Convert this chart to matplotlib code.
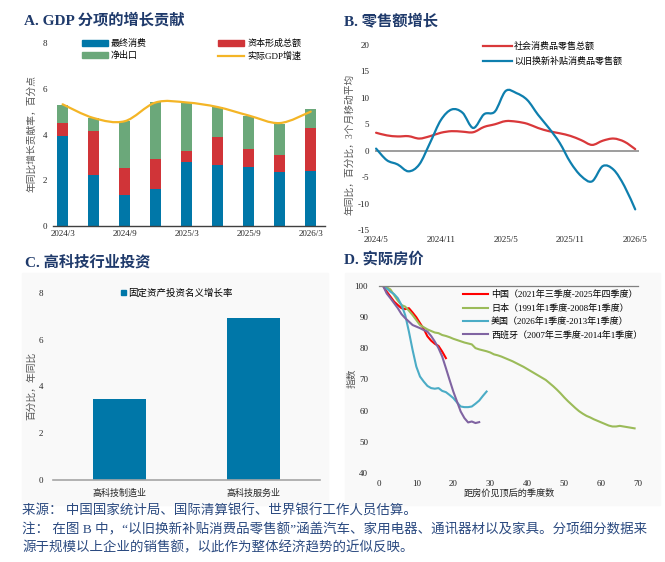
import numpy as np
import matplotlib
matplotlib.use('Agg')
import matplotlib.pyplot as plt
from matplotlib.path import Path
from matplotlib.patches import PathPatch, Patch, Rectangle
from matplotlib.lines import Line2D

# ---- data -------------------------------------------------------------
# A: GDP contributions (quarterly)
gdp_labels = ['2024/3', '', '2024/9', '', '2025/3', '', '2025/9', '', '2026/3']
consumption = [3.93, 2.25, 1.35, 1.61, 2.81, 2.65, 2.60, 2.38, 2.39]
capital = [0.58, 1.90, 1.20, 1.31, 0.48, 1.25, 0.75, 0.72, 1.90]
net_exports = [0.80, 0.56, 2.05, 2.49, 2.08, 1.31, 1.46, 1.38, 0.81]
gdp_growth = [5.32, 4.72, 4.58, 5.40, 5.40, 5.20, 4.83, 4.50, 5.00]

# B: retail sales, 3-month moving average, 2024/5 .. 2026/5
retail_ticks = ['2024/5', '2024/11', '2025/5', '2025/11', '2026/5']
retail_total = [3.4, 2.9, 2.7, 2.75, 2.3, 2.75, 3.4, 3.7, 3.6, 3.5, 4.5, 5.0, 5.6,
                5.5, 5.1, 4.3, 3.7, 3.3, 2.8, 2.0, 1.1, 1.9, 2.3, 1.7, 0.3]
trade_in = [0.4, -1.8, -2.6, -3.9, -2.6, 1.5, 5.8, 7.8, 7.2, 4.3, 6.9, 7.4, 11.3,
            10.9, 9.6, 6.8, 4.3, 1.5, -2.2, -4.8, -5.8, -2.9, -3.6, -6.7, -11.1]

# C: high-tech investment
tech_sectors = ['高科技制造业', '高科技服务业']
tech_growth = [3.45, 6.9]

# D: real house prices, quarters after peak (starting at quarter 1)
china = [100, 98.1, 96.5, 94.9, 93.8, 92.8, 92.5, 92.8, 91.4, 89.9, 88.0, 86.2,
         83.8, 82.4, 81.4, 80.7, 78.9, 76.8]
japan = [100, 99.5, 98.8, 97.0, 95.2, 93.8, 93.3, 92.0, 90.6, 89.0, 87.4, 86.7,
         86.0, 85.5, 85.0, 84.8, 84.2, 83.9, 83.5, 83.0, 82.6, 82.2, 81.8, 81.5,
         81.2, 80.0, 79.6, 79.3, 79.0, 78.6, 78.0, 77.7, 77.3, 76.8, 76.3, 75.8,
         75.2, 74.6, 74.0, 73.3, 72.6, 71.9, 71.2, 70.5, 69.8, 68.8, 67.8, 66.7,
         65.5, 64.2, 63.0, 61.9, 60.8, 59.8, 59.0, 58.3, 57.8, 57.2, 56.7, 56.2,
         55.7, 55.2, 54.9, 54.9, 55.1, 54.9, 54.7, 54.5, 54.3]
usa = [100, 99.1, 98.1, 97.3, 96.0, 93.8, 90.6, 85.3, 79.4, 74.1, 70.9, 69.3,
       67.9, 67.2, 67.0, 67.2, 66.3, 65.9, 65.0, 64.0, 62.6, 61.3, 61.1, 61.1,
       61.3, 62.2, 63.2, 64.7, 66.1]
spain = [100, 97.5, 96.0, 94.4, 92.8, 90.9, 89.6, 88.5, 87.4, 86.9, 86.4, 85.8,
         85.3, 83.9, 82.1, 80.0, 77.3, 73.6, 69.8, 66.1, 62.9, 59.7, 57.6, 56.2,
         56.5, 56.0, 56.3]

# ---- style -------------------------------------------------------------
plt.rcParams['font.family'] = ['Liberation Serif', 'Noto Sans CJK SC', 'DejaVu Sans']
plt.rcParams['axes.unicode_minus'] = False
NAVY = '#1F3A6B'
BLUE = '#0077A8'
RED = '#D03438'
GREEN = '#6BA87A'
GOLD = '#F4B526'
LABEL = '#555555'
TICK = '#262626'

W, H = 665, 562
fig = plt.figure(figsize=(W / 100, H / 100), dpi=100)


def px_axes(l, t, r, b):
    return fig.add_axes([l / W, 1 - b / H, (r - l) / W, (b - t) / H])


def fx(x):
    return x / W


def fy(y):
    return 1 - y / H


def smooth_path(x, y):
    # Catmull-Rom through the points, drawn as cubic Bezier
    P = np.column_stack([x, y]).astype(float)
    n = len(P)
    verts = [P[0]]
    codes = [Path.MOVETO]
    for i in range(n - 1):
        a = P[max(i - 1, 0)]
        d = P[min(i + 2, n - 1)]
        verts += [P[i] + (P[i + 1] - a) / 6, P[i + 1] - (d - P[i]) / 6, P[i + 1]]
        codes += [Path.CURVE4] * 3
    return Path(verts, codes)


def clean(ax):
    for s in ax.spines.values():
        s.set_visible(False)
    ax.tick_params(length=0, labelsize=6.5, colors=TICK)
    ax.patch.set_alpha(0)


# light panels behind C and D
for l, r in [(22, 328), (345, 660)]:
    fig.patches.append(Rectangle((fx(l), fy(505)), (r - l) / W, (505 - 273) / H,
                                 transform=fig.transFigure, color='#F9F9F9', zorder=-10))

# ---- A ----------------------------------------------------------------
ax = px_axes(53, 43, 325, 226)
clean(ax)
x = np.arange(len(consumption))
bw = 0.35
ax.bar(x, consumption, bw, color=BLUE)
ax.bar(x, capital, bw, bottom=consumption, color=RED)
ax.bar(x, net_exports, bw, bottom=np.add(consumption, capital), color=GREEN)
ax.add_patch(PathPatch(smooth_path(x, gdp_growth), fill=False, edgecolor=GOLD,
                       lw=1.6, capstyle='round', zorder=5))
ax.set_xlim(-0.31, 8.46)
ax.set_ylim(0, 8)
ax.set_yticks([0, 2, 4, 6, 8])
ax.set_xticks(x)
ax.set_xticklabels(gdp_labels)
ax.spines['bottom'].set_visible(True)
ax.spines['bottom'].set_color('#404040')
ax.spines['bottom'].set_linewidth(1.0)
ax.tick_params(axis='y', pad=4)
ax.tick_params(axis='x', pad=3)
handles = [Patch(color=BLUE), Patch(color=GREEN), Patch(color=RED),
           Line2D([], [], color=GOLD, lw=1.6)]
labels = ['最终消费', '净出口', '资本形成总额', '实际GDP增速']
ax.legend(handles, labels, ncol=2, loc='upper left', bbox_to_anchor=(fx(82), fy(39)),
          bbox_transform=fig.transFigure, frameon=False, fontsize=6.5, borderpad=0,
          borderaxespad=0, handlelength=2.9, handleheight=0.6, handletextpad=0.3,
          columnspacing=7.9, labelspacing=0.35)
fig.text(fx(32), fy(134), '年同比增长贡献率，百分点', rotation=90, ha='center',
         va='center', fontsize=7, color=LABEL)
fig.text(fx(24), fy(20), 'A. GDP 分项的增长贡献', fontsize=11, weight='bold',
         color=NAVY, va='center')

# ---- B ----------------------------------------------------------------
ax = px_axes(375, 45, 639, 230)
clean(ax)
m = np.arange(len(retail_total))
ax.axhline(0, color='#8C8C8C', lw=1.2, zorder=1)
ax.add_patch(PathPatch(smooth_path(m, retail_total), fill=False, edgecolor='#D9383A',
                       lw=1.6, capstyle='round', zorder=4))
ax.add_patch(PathPatch(smooth_path(m, trade_in), fill=False, edgecolor='#0E7FAE',
                       lw=1.6, capstyle='round', zorder=5))
ax.set_xlim(-0.1, 24.35)
ax.set_ylim(-15, 20)
ax.set_yticks(np.arange(-15, 21, 5))
ax.set_xticks(np.arange(0, 25, 6))
ax.set_xticklabels(retail_ticks)
ax.tick_params(axis='y', pad=4)
ax.tick_params(axis='x', pad=4)
handles = [Line2D([], [], color='#D9383A', lw=1.6), Line2D([], [], color='#0E7FAE', lw=1.6)]
ax.legend(handles, ['社会消费品零售总额', '以旧换新补贴消费品零售额'], loc='upper left',
          bbox_to_anchor=(fx(483), fy(42)), bbox_transform=fig.transFigure,
          frameon=False, fontsize=6.5, borderpad=0, borderaxespad=0,
          handlelength=3.2, handletextpad=0.2, labelspacing=0.67)
fig.text(fx(350), fy(144), '年同比，百分比，3个月移动平均', rotation=90, ha='center',
         va='center', fontsize=7, color=LABEL)
fig.text(fx(344), fy(21), 'B. 零售额增长', fontsize=11, weight='bold',
         color=NAVY, va='center')

# ---- C ----------------------------------------------------------------
ax = px_axes(53, 292.7, 320, 480)
clean(ax)
cx = np.arange(len(tech_growth))
ax.bar(cx, tech_growth, 0.4, color=BLUE)
ax.set_xlim(-0.5, 1.5)
ax.set_ylim(0, 8)
ax.set_yticks([0, 2, 4, 6, 8])
ax.set_xticks(cx)
ax.set_xticklabels(tech_sectors)
ax.spines['bottom'].set_visible(True)
ax.spines['bottom'].set_color('#A6A6A6')
ax.spines['bottom'].set_linewidth(1.2)
ax.tick_params(axis='y', pad=7)
ax.tick_params(axis='x', pad=6)
ax.legend([Patch(color=BLUE)], ['固定资产投资名义增长率'], loc='upper left',
          bbox_to_anchor=(fx(121), fy(288.5)), bbox_transform=fig.transFigure,
          frameon=False, fontsize=6.8, borderpad=0, borderaxespad=0,
          handlelength=0.5, handleheight=0.5, handletextpad=0.25)
fig.text(fx(32), fy(386), '百分比，年同比', rotation=90, ha='center',
         va='center', fontsize=7, color=LABEL)
fig.text(fx(25), fy(262), 'C. 高科技行业投资', fontsize=11, weight='bold',
         color=NAVY, va='center')

# ---- D ----------------------------------------------------------------
ax = px_axes(379.3, 285.7, 638.3, 473)
clean(ax)
series = [(china, '#FF0000', '中国（2021年三季度-2025年四季度）'),
          (japan, '#9BBB59', '日本（1991年1季度-2008年1季度）'),
          (usa, '#4BACC6', '美国（2026年1季度-2013年1季度）'),
          (spain, '#8064A2', '西班牙（2007年三季度-2014年1季度）')]
for vals, col, lab in series:
    ax.plot(np.arange(1, len(vals) + 1), vals, color=col, lw=1.5, label=lab)
ax.set_xlim(0, 70)
ax.set_ylim(40, 100)
ax.set_yticks(np.arange(40, 101, 10))
ax.set_xticks(np.arange(0, 71, 10))
ax.spines['top'].set_visible(True)
ax.spines['top'].set_color('#808080')
ax.spines['top'].set_linewidth(0.9)
ax.tick_params(axis='y', pad=8)
ax.tick_params(axis='x', pad=5)
ax.legend(loc='upper left', bbox_to_anchor=(fx(463), fy(290.5)),
          bbox_transform=fig.transFigure, frameon=False, fontsize=6.5, borderpad=0,
          borderaxespad=0, handlelength=2.8, handletextpad=0.3, labelspacing=0.48)
fig.text(fx(509), fy(493), '距房价见顶后的季度数', ha='center', va='center',
         fontsize=6.6, color=TICK)
fig.text(fx(352), fy(378), '指数', rotation=90, ha='center', va='center',
         fontsize=7, color=LABEL)
fig.text(fx(344), fy(260), 'D. 实际房价', fontsize=11, weight='bold',
         color=NAVY, va='center')

# ---- footer -----------------------------------------------------------
FOOT = '#2B4A80'
notes = ['来源： 中国国家统计局、国际清算银行、世界银行工作人员估算。',
         '注： 在图 B 中，“以旧换新补贴消费品零售额”涵盖汽车、家用电器、通讯器材以及家具。分项细分数据来',
         '源于规模以上企业的销售额，以此作为整体经济趋势的近似反映。']
for yy, line in zip([511, 530, 548], notes):
    fig.text(fx(22), fy(yy), line, fontsize=9.7, color=FOOT, va='center')

fig.savefig('out.png', dpi=100)
